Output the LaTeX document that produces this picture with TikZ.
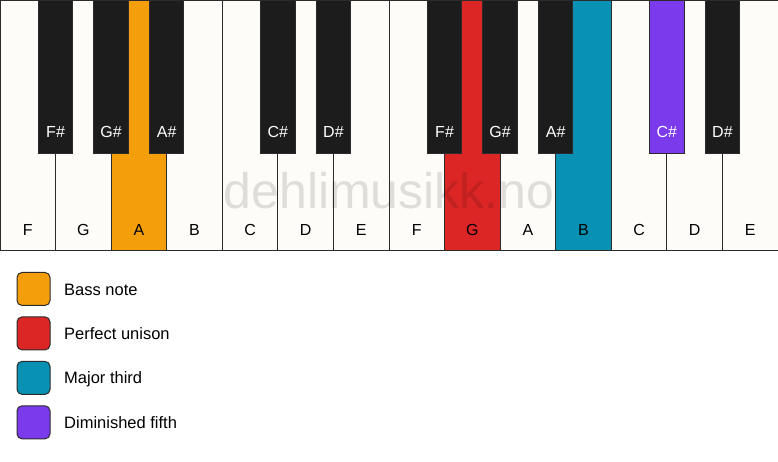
\documentclass[tikz,border=0pt]{standalone}
\usepackage{fontspec}
\setmainfont{Liberation Sans}
\usepackage{tikz}
\usetikzlibrary{shapes}
\usetikzlibrary{shapes.geometric}
\pgfdeclarelayer{whitelayer}
\pgfdeclarelayer{blacklayer}
\pgfsetlayers{whitelayer,blacklayer,main}
\definecolor{ivory}{HTML}{FDFCF9}
\definecolor{ebony}{HTML}{1C1C1C}
\definecolor{keyline}{HTML}{2B2B2B}
\definecolor{bassnote}{HTML}{F59E0B}
\definecolor{unison}{HTML}{DC2626}
\definecolor{third}{HTML}{0891B2}
\definecolor{fifth}{HTML}{7C3AED}
\tikzstyle{none}=[inner sep=0pt]
\tikzstyle{white key}=[draw=keyline, fill=ivory, line width=1pt, minimum width=55.571pt, minimum height=250pt, inner sep=0pt]
\tikzstyle{black key}=[draw=keyline, fill=ebony, line width=1pt, minimum width=34.5pt, minimum height=153pt, inner sep=0pt]
\tikzstyle{white name}=[inner sep=0pt, anchor=base, font=\fontsize{16}{18}\selectfont]
\tikzstyle{black name}=[white name, text=white]
\tikzstyle{swatch}=[draw=keyline, line width=1pt, rounded corners=5pt, minimum size=33pt, inner sep=0pt]
\tikzstyle{legend}=[inner sep=0pt, anchor=base west, font=\fontsize{16.5}{18}\selectfont]

\begin{document}
\begin{tikzpicture}[x=55.571pt, y=55.571pt]
	\useasboundingbox (0, 0) rectangle (14, -8.296);
	\begin{pgfonlayer}{whitelayer}
		\node [style=white key] (0) at (0.5, -2.25) {};
		\node [style=white key] (1) at (1.5, -2.25) {};
		\node [style=white key, fill=bassnote] (2) at (2.5, -2.25) {};
		\node [style=white key] (3) at (3.5, -2.25) {};
		\node [style=white key] (4) at (4.5, -2.25) {};
		\node [style=white key] (5) at (5.5, -2.25) {};
		\node [style=white key] (6) at (6.5, -2.25) {};
		\node [style=white key] (7) at (7.5, -2.25) {};
		\node [style=white key, fill=unison] (8) at (8.5, -2.25) {};
		\node [style=white key] (9) at (9.5, -2.25) {};
		\node [style=white key, fill=third] (10) at (10.5, -2.25) {};
		\node [style=white key] (11) at (11.5, -2.25) {};
		\node [style=white key] (12) at (12.5, -2.25) {};
		\node [style=white key] (13) at (13.5, -2.25) {};
		\node [style=white name] (14) at (0.5, -4.229) {F};
		\node [style=white name] (15) at (1.5, -4.229) {G};
		\node [style=white name] (16) at (2.5, -4.229) {A};
		\node [style=white name] (17) at (3.5, -4.229) {B};
		\node [style=white name] (18) at (4.5, -4.229) {C};
		\node [style=white name] (19) at (5.5, -4.229) {D};
		\node [style=white name] (20) at (6.5, -4.229) {E};
		\node [style=white name] (21) at (7.5, -4.229) {F};
		\node [style=white name] (22) at (8.5, -4.229) {G};
		\node [style=white name] (23) at (9.5, -4.229) {A};
		\node [style=white name] (24) at (10.5, -4.229) {B};
		\node [style=white name] (25) at (11.5, -4.229) {C};
		\node [style=white name] (26) at (12.5, -4.229) {D};
		\node [style=white name] (27) at (13.5, -4.229) {E};
	\end{pgfonlayer}
	\begin{pgfonlayer}{blacklayer}
		\node [style=black key] (28) at (1, -1.377) {};
		\node [style=black key] (29) at (2, -1.377) {};
		\node [style=black key] (30) at (3, -1.377) {};
		\node [style=black key] (31) at (5, -1.377) {};
		\node [style=black key] (32) at (6, -1.377) {};
		\node [style=black key] (33) at (8, -1.377) {};
		\node [style=black key] (34) at (9, -1.377) {};
		\node [style=black key] (35) at (10, -1.377) {};
		\node [style=black key, fill=fifth] (36) at (12, -1.377) {};
		\node [style=black key] (37) at (13, -1.377) {};
		\node [style=black name] (38) at (1, -2.483) {F\#};
		\node [style=black name] (39) at (2, -2.483) {G\#};
		\node [style=black name] (40) at (3, -2.483) {A\#};
		\node [style=black name] (41) at (5, -2.483) {C\#};
		\node [style=black name] (42) at (6, -2.483) {D\#};
		\node [style=black name] (43) at (8, -2.483) {F\#};
		\node [style=black name] (44) at (9, -2.483) {G\#};
		\node [style=black name] (45) at (10, -2.483) {A\#};
		\node [style=black name] (46) at (12, -2.483) {C\#};
		\node [style=black name] (47) at (13, -2.483) {D\#};
	\end{pgfonlayer}
	\node [style=none, anchor=base, text=black, text opacity=0.12, font=\fontsize{50}{52}\selectfont] (48) at (7, -3.743) {dehlimusikk.no};
	\node [style=swatch, fill=bassnote] (49) at (0.603, -5.2) {};
	\node [style=swatch, fill=unison] (50) at (0.603, -6.0) {};
	\node [style=swatch, fill=third] (51) at (0.603, -6.8) {};
	\node [style=swatch, fill=fifth] (52) at (0.603, -7.6) {};
	\node [style=legend] (53) at (1.152, -5.31) {Bass note};
	\node [style=legend] (54) at (1.152, -6.11) {Perfect unison};
	\node [style=legend] (55) at (1.152, -6.91) {Major third};
	\node [style=legend] (56) at (1.152, -7.71) {Diminished fifth};
\end{tikzpicture}
\end{document}
